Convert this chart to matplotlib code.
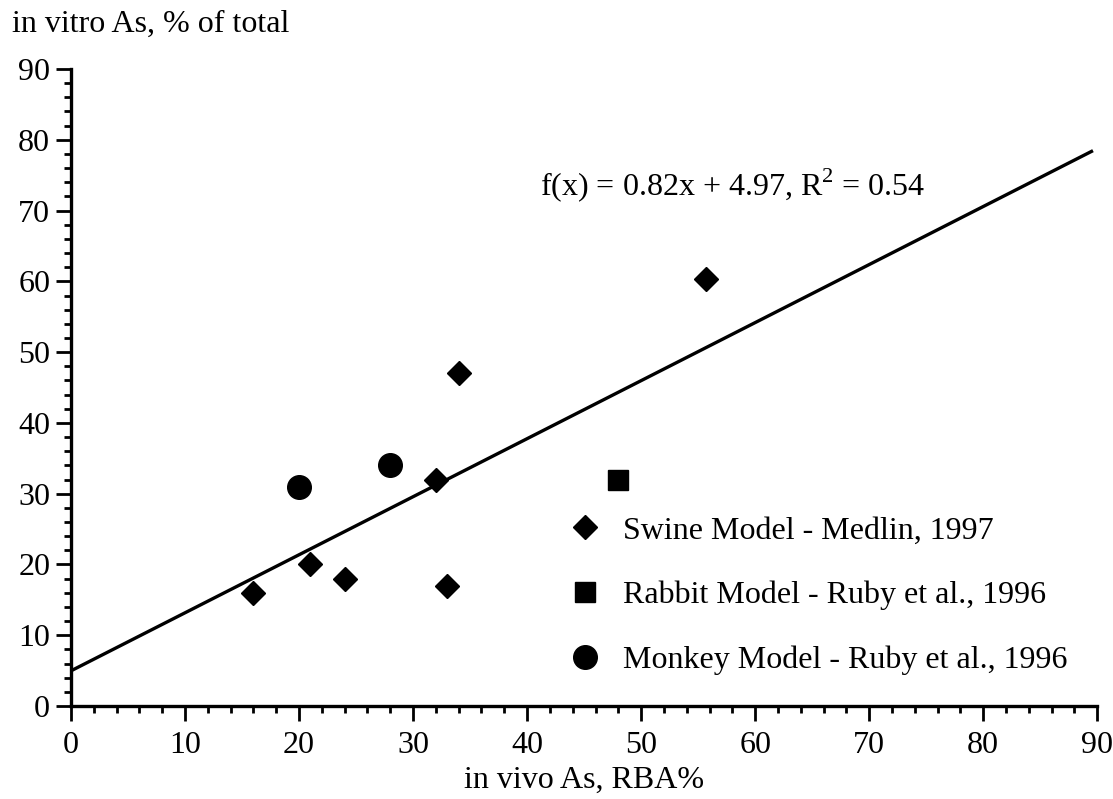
import numpy as np
import matplotlib.pyplot as plt
from matplotlib.ticker import MultipleLocator

# data
swine_x = [16, 21, 24, 32, 33, 34, 55.7]
swine_y = [16, 20, 18, 32, 17, 47, 60.3]
rabbit_x = [48]
rabbit_y = [32]
monkey_x = [20, 28]
monkey_y = [31, 34]
slope, intercept, r2 = 0.82, 4.97, 0.54

plt.rcParams['font.family'] = ['Liberation Serif', 'DejaVu Serif']
plt.rcParams['mathtext.fontset'] = 'custom'
plt.rcParams['mathtext.rm'] = 'Liberation Serif'
fs = 23

fig = plt.figure(figsize=(11.13, 7.99), dpi=100)
ax = fig.add_axes([0.0638, 0.1164, 0.922, 0.7972])

# trend line
xs = np.linspace(0, 89.5, 50)
ax.plot(xs, slope * xs + intercept, color='black', lw=2.4, zorder=2)

ax.plot(swine_x, swine_y, 'D', color='black', ms=12, ls='none',
        label='Swine Model - Medlin, 1997', zorder=3)
ax.plot(rabbit_x, rabbit_y, 's', color='black', ms=15, ls='none',
        label='Rabbit Model - Ruby et al., 1996', zorder=3)
ax.plot(monkey_x, monkey_y, 'o', color='black', ms=17, ls='none',
        label='Monkey Model - Ruby et al., 1996', zorder=3)

ax.text(41.1, 73.6, 'f(x) = %.2fx + %.2f, R$^{2}$ = %.2f' % (slope, intercept, r2),
        fontsize=fs, va='center', ha='left')

ax.set_xlim(0, 90)
ax.set_ylim(0, 90)
ax.xaxis.set_major_locator(MultipleLocator(10))
ax.xaxis.set_minor_locator(MultipleLocator(2))
ax.yaxis.set_major_locator(MultipleLocator(10))
ax.yaxis.set_minor_locator(MultipleLocator(2))
for s in ['top', 'right']:
    ax.spines[s].set_visible(False)
for s in ['left', 'bottom']:
    ax.spines[s].set_linewidth(2.4)
ax.tick_params(which='major', length=11, width=2, labelsize=fs, pad=4)
ax.tick_params(axis='x', which='major', pad=7)
ax.tick_params(which='minor', length=5, width=2)

ax.set_xlabel('in vivo As, RBA%', fontsize=fs, labelpad=4)
fig.text(0.011, 0.97, 'in vitro As, % of total', fontsize=fs, va='center', ha='left')

ax.legend(loc='upper left', bbox_to_anchor=(0.473, 0.318), frameon=False,
          fontsize=fs, handlelength=1.0, handletextpad=0.7, labelspacing=1.1,
          borderaxespad=0)

fig.savefig('out.png', dpi=100)
